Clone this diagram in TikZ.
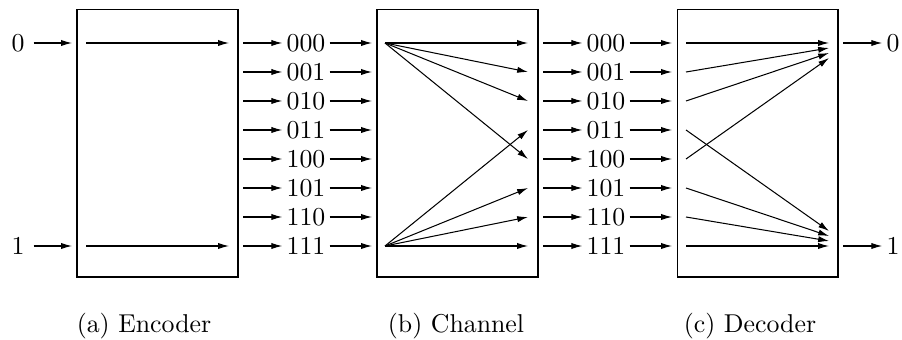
\documentclass[tikz,border=0pt]{standalone}
\usepackage{amsmath}
\usetikzlibrary{arrows.meta}

\begin{document}
\begin{tikzpicture}[x=0.3876pt,y=-0.3876pt,>={Latex[length=4.2pt,width=2.4pt]}]
    \useasboundingbox (0,0) rectangle (902,340);
    \tikzset{blk/.style={draw,minimum width=62.4pt,minimum height=103.5pt},
             code/.style={inner sep=1.5pt}}
    % the three boxes
    \node[blk] (enc) at (157.5,143.5) {};
    \node[blk] (chn) at (457.5,143.5) {};
    \node[blk] (dec) at (757.5,143.5) {};
    % code words
    \foreach \c [count=\i from 0] in {000,001,010,011,100,101,110,111} {
        \pgfmathsetmacro\y{43+29*\i}
        \node[code] (a\i) at (306,\y) {$\c$};
        \node[code] (b\i) at (606,\y) {$\c$};
        \coordinate (l\i) at (243,\y);
        \coordinate (r\i) at (372,\y);
        \coordinate (s\i) at (385,\y);
        \coordinate (t\i) at (528,\y);
        \coordinate (u\i) at (543,\y);
        \coordinate (v\i) at (672,\y);
        \coordinate (w\i) at (686,\y);
        \draw[->] (l\i)--(a\i);
        \draw[->] (a\i)--(r\i);
        \draw[->] (u\i)--(b\i);
        \draw[->] (b\i)--(v\i);
    }
    % encoder
    \node (in0) at (18,43) {$0$};
    \node (in1) at (18,246) {$1$};
    \coordinate (i0) at (72,43);
    \coordinate (i1) at (72,246);
    \coordinate (e0) at (86,43);
    \coordinate (e1) at (86,246);
    \coordinate (f0) at (229,43);
    \coordinate (f1) at (229,246);
    \draw[->] (in0)--(i0);
    \draw[->] (in1)--(i1);
    \draw[->] (e0)--(f0);
    \draw[->] (e1)--(f1);
    % channel
    \foreach \j in {0,1,2,4} \draw[->] (s0)--(t\j);
    \foreach \j in {3,5,6,7} \draw[->] (s7)--(t\j);
    % decoder
    \foreach \j/\d in {0/0,1/5,2/10,4/15} {
        \coordinate (z\j) at (829,43+\d);
        \draw[->] (w\j)--(z\j);
    }
    \foreach \j/\d in {7/0,6/5,5/10,3/15} {
        \coordinate (z\j) at (829,246-\d);
        \draw[->] (w\j)--(z\j);
    }
    \node[code] (out0) at (893,43) {$0$};
    \node[code] (out1) at (893,246) {$1$};
    \coordinate (o0) at (843,43);
    \coordinate (o1) at (843,246);
    \draw[->] (o0)--(out0);
    \draw[->] (o1)--(out1);
    % captions
    \node (capa) at (144,326) {(a) Encoder};
    \node (capb) at (456,326) {(b) Channel};
    \node (capc) at (750,326) {(c) Decoder};
\end{tikzpicture}
\end{document}
